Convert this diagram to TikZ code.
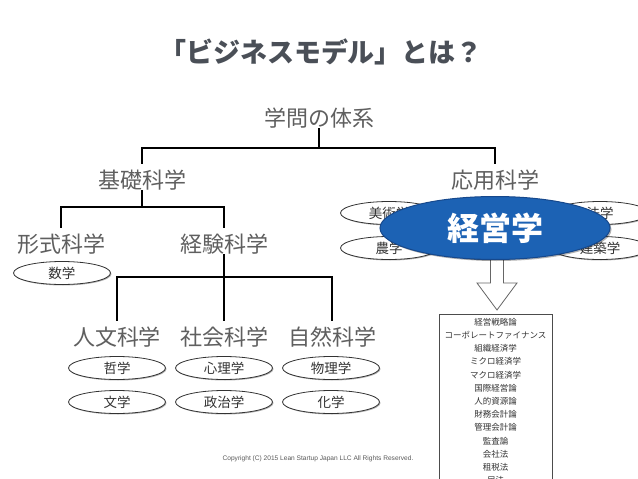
\documentclass[tikz,border=0pt]{standalone}
\usepackage{fontspec}
\setmainfont{Liberation Sans}
\newfontfamily\jp{Noto Sans CJK JP}
\usetikzlibrary{shapes.geometric,shadows}
\definecolor{titlegray}{RGB}{74,79,87}
\definecolor{labgray}{RGB}{95,95,95}
\definecolor{keiblue}{RGB}{28,98,180}
\definecolor{keiborder}{RGB}{22,72,140}
\begin{document}
\begin{tikzpicture}[x=1pt,y=-1pt,
  lab/.style={font=\jp\fontsize{22}{24}\selectfont, text=labgray, inner sep=0pt, outer sep=0pt},
  leaf/.style={ellipse, draw=black!80, line width=0.8pt, fill=white, minimum width=97pt, minimum height=23pt, inner sep=0pt, font=\jp\fontsize{13.5}{14}\selectfont, text=black!80, drop shadow={shadow xshift=1pt,shadow yshift=-1pt,opacity=0.3,fill=black}},
  conn/.style={line width=1.2pt, black},
  item/.style={font=\jp\fontsize{8.5}{9}\selectfont, text=black!80, inner sep=0pt},
  blockarrow/.style={fill=white, draw=black!60, line width=0.8pt, line join=miter}]
\useasboundingbox (0,0) rectangle (638,479);
\clip (0,0) rectangle (638,479);
\fill[white] (0,0) rectangle (638,479);

% title
\node[font=\jp\bfseries\fontsize{27}{29}\selectfont, text=titlegray, inner sep=0pt] (title) at (321,52) {「ビジネスモデル」とは？};

% tree labels
\node[lab] (root) at (319,118) {学問の体系};
\node[lab] (kiso) at (142,180) {基礎科学};
\node[lab] (oyo) at (495,180) {応用科学};
\node[lab] (keishiki) at (61,244) {形式科学};
\node[lab] (keiken) at (224,244) {経験科学};
\node[lab] (jinbun) at (117,337) {人文科学};
\node[lab] (shakai) at (224,337) {社会科学};
\node[lab] (shizen) at (332,337) {自然科学};

\coordinate (j0) at (319,148);
\coordinate (j1) at (142,207);
\coordinate (j2) at (224,277);

\draw[conn] (root.south) -- (j0);
\draw[conn] ([yshift=6pt]kiso.north) |- (j0) -| ([yshift=6pt]oyo.north);
\draw[conn] (kiso.south) -- (j1);
\draw[conn] ([yshift=6pt]keishiki.north) |- (j1) -| ([yshift=6pt]keiken.north);
\draw[conn] (keiken.south) -- (j2);
\draw[conn] ([yshift=6pt]jinbun.north) |- (j2) -| ([yshift=6pt]shizen.north);
\draw[conn] (j2) -- ([yshift=6pt]shakai.north);

% leaves
\node[leaf] (sugaku) at (62,273) {数学};
\node[leaf] (tetsu) at (117,368) {哲学};
\node[leaf] (shinri) at (224,368) {心理学};
\node[leaf] (butsuri) at (331,368) {物理学};
\node[leaf] (bungaku) at (117,402) {文学};
\node[leaf] (seiji) at (224,402) {政治学};
\node[leaf] (kagaku) at (331,402) {化学};

% applied science leaves (partly hidden)
\node[leaf] (bijutsu) at (389,213) {美術学};
\node[leaf] (nogaku) at (389,248) {農学};
\node[leaf] (hogaku) at (600,213) {法学};
\node[leaf] (kenchiku) at (600,248) {建築学};
\node[leaf] (hidden) at (490,248) {};

% block arrow
\draw[blockarrow] (490.5,255) -- (503.5,255) -- (503.5,283) -- (517,283) -- (497,310) -- (477,283) -- (490.5,283) -- cycle;

% management ellipse
\node[ellipse, fill=keiblue, draw=keiborder, line width=1pt, minimum width=230pt, minimum height=63pt, inner sep=0pt,
  font=\jp\bfseries\fontsize{32}{34}\selectfont, text=white,
  drop shadow={shadow xshift=1.5pt,shadow yshift=-1.5pt,opacity=0.3,fill=black}] (keiei) at (495,228) {経営学};

% list box
\draw[line width=0.8pt, black!70, fill=white] (439,314) rectangle (552,495);
\foreach \t [count=\i from 0] in {経営戦略論,コーポレートファイナンス,組織経済学,ミクロ経済学,マクロ経済学,国際経営論,人的資源論,財務会計論,管理会計論,監査論,会社法,租税法,民法}
  \node[item] (it\i) at (495.5,{322+13.2*\i}) {\t};

% copyright
\node[font=\fontsize{6.6}{8}\selectfont, text=black!65, inner sep=0pt] (copy) at (318,459) {Copyright (C) 2015 Lean Startup Japan LLC All Rights Reserved.};
\end{tikzpicture}
\end{document}
